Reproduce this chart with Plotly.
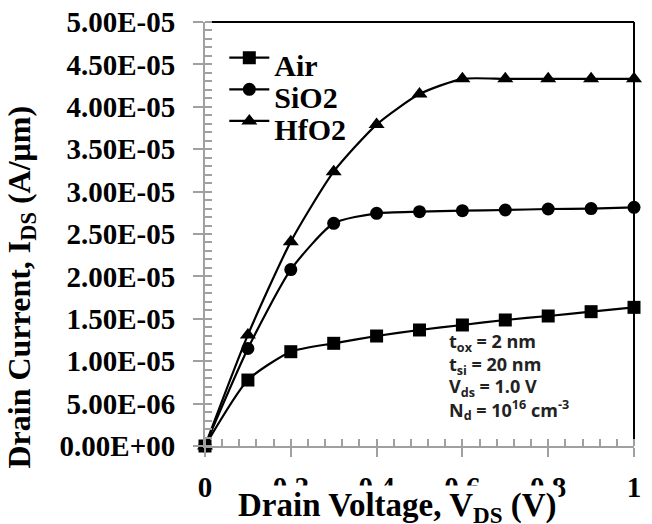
import plotly.graph_objects as go

# ---- data ----
vds = [0, 0.1, 0.2, 0.3, 0.4, 0.5, 0.6, 0.7, 0.8, 0.9, 1.0]
air = [0, 0.778e-5, 1.112e-5, 1.211e-5, 1.297e-5, 1.368e-5, 1.427e-5, 1.486e-5, 1.533e-5, 1.584e-5, 1.635e-5]
sio2 = [0, 1.15e-5, 2.08e-5, 2.626e-5, 2.744e-5, 2.763e-5, 2.775e-5, 2.783e-5, 2.795e-5, 2.80e-5, 2.815e-5]
hfo2 = [0, 1.31e-5, 2.41e-5, 3.235e-5, 3.79e-5, 4.15e-5, 4.33e-5, 4.33e-5, 4.33e-5, 4.33e-5, 4.33e-5]
series_names = ["Air", "SiO2", "HfO2"]
y_tick_vals = [0, 5e-6, 1e-5, 1.5e-5, 2e-5, 2.5e-5, 3e-5, 3.5e-5, 4e-5, 4.5e-5, 5e-5]
y_tick_labels = ["0.00E+00", "5.00E-06", "1.00E-05", "1.50E-05", "2.00E-05", "2.50E-05",
                 "3.00E-05", "3.50E-05", "4.00E-05", "4.50E-05", "5.00E-05"]
x_tick_vals = [0, 0.2, 0.4, 0.6, 0.8, 1]
x_tick_labels = ["0", "0.2", "0.4", "0.6", "0.8", "1"]
param_lines = ["t<sub>ox</sub> = 2 nm", "t<sub>si</sub> = 20 nm",
               "V<sub>ds</sub> = 1.0 V", "N<sub>d</sub> = 10<sup>16</sup> cm<sup>-3</sup>"]

serif = "Liberation Serif"
fig = go.Figure()
symbols = ["square", "circle", "triangle-up"]
sizes = [13, 13, 14]
for name, ys, sym, sz in zip(series_names, [air, sio2, hfo2], symbols, sizes):
    fig.add_trace(go.Scatter(
        x=vds, y=ys, mode="lines+markers",
        name="<br><span style='font-size:30px'>" + name + "</span>",
        line=dict(color="black", width=2.2, shape="spline", smoothing=0.6),
        marker=dict(symbol=sym, size=sz, color="black"),
        cliponaxis=False,
    ))

axis_gray = "#a0a0a0"
fig.update_xaxes(
    range=[0, 1], tickvals=x_tick_vals, ticktext=x_tick_labels, automargin=False,
    showgrid=False, zeroline=False, showline=True, linecolor=axis_gray, linewidth=2,
    ticks="outside", ticklen=9, tickwidth=2, tickcolor=axis_gray,
    minor=dict(ticks="inside", dtick=0.04, ticklen=7, tickwidth=1.5, tickcolor=axis_gray, showgrid=False),
    ticklabelstandoff=5,
    tickfont=dict(family=serif, size=29, color="black", weight="bold"),
)
fig.update_yaxes(
    range=[0, 5e-5], tickvals=y_tick_vals, ticktext=y_tick_labels, automargin=False,
    showgrid=False, zeroline=False, showline=True, linecolor=axis_gray, linewidth=2,
    ticks="outside", ticklen=10, tickwidth=2, tickcolor=axis_gray,
    minor=dict(ticks="inside", dtick=1e-6, ticklen=7, tickwidth=1.5, tickcolor=axis_gray, showgrid=False),
    ticklabelstandoff=12,
    tickfont=dict(family=serif, size=29, color="black", weight="bold"),
)

# black top and right frame
fig.add_shape(type="line", xref="x domain", yref="y domain", x0=0.015, x1=1, y0=1, y1=1,
              line=dict(color="black", width=2), layer="below")
fig.add_shape(type="line", xref="x domain", yref="y domain", x0=1, x1=1, y0=0.01, y1=1,
              line=dict(color="black", width=2), layer="below")

# axis titles
fig.add_annotation(text="Drain Voltage, V<sub>DS</sub> (V)", xref="paper", yref="paper",
                   x=0.4476, y=-0.146, xanchor="center", yanchor="middle", showarrow=False,
                   bgcolor="white", font=dict(family=serif, size=33, color="black", weight="bold"))
fig.add_annotation(text="Drain Current, I<sub>DS</sub> (A/μm)", xref="paper", yref="paper",
                   x=-0.43, y=0.375, xanchor="center", yanchor="middle", textangle=-90, showarrow=False,
                   font=dict(family=serif, size=32, color="black", weight="bold"))

# parameter box
for i, line in enumerate(param_lines):
    fig.add_annotation(text=line, xref="x domain", yref="y domain",
                       x=0.565, y=0.243 - i * 0.053, xanchor="left", yanchor="middle", showarrow=False,
                       font=dict(family="Open Sans", size=18, color="#222222", weight="bold"))

fig.update_layout(
    width=652, height=524,
    margin=dict(l=205, r=18, t=22, b=78, autoexpand=False),
    paper_bgcolor="white", plot_bgcolor="white",
    showlegend=True,
    legend=dict(x=0.045, y=0.948, xanchor="left", yanchor="top", bgcolor="rgba(0,0,0,0)",
                font=dict(family=serif, size=11, color="black", weight="bold"),
                valign="top", tracegroupgap=0, itemwidth=40),
)

fig.write_html("out.html", config={"displayModeBar": False},
               post_script="document.body.style.margin='0';")
